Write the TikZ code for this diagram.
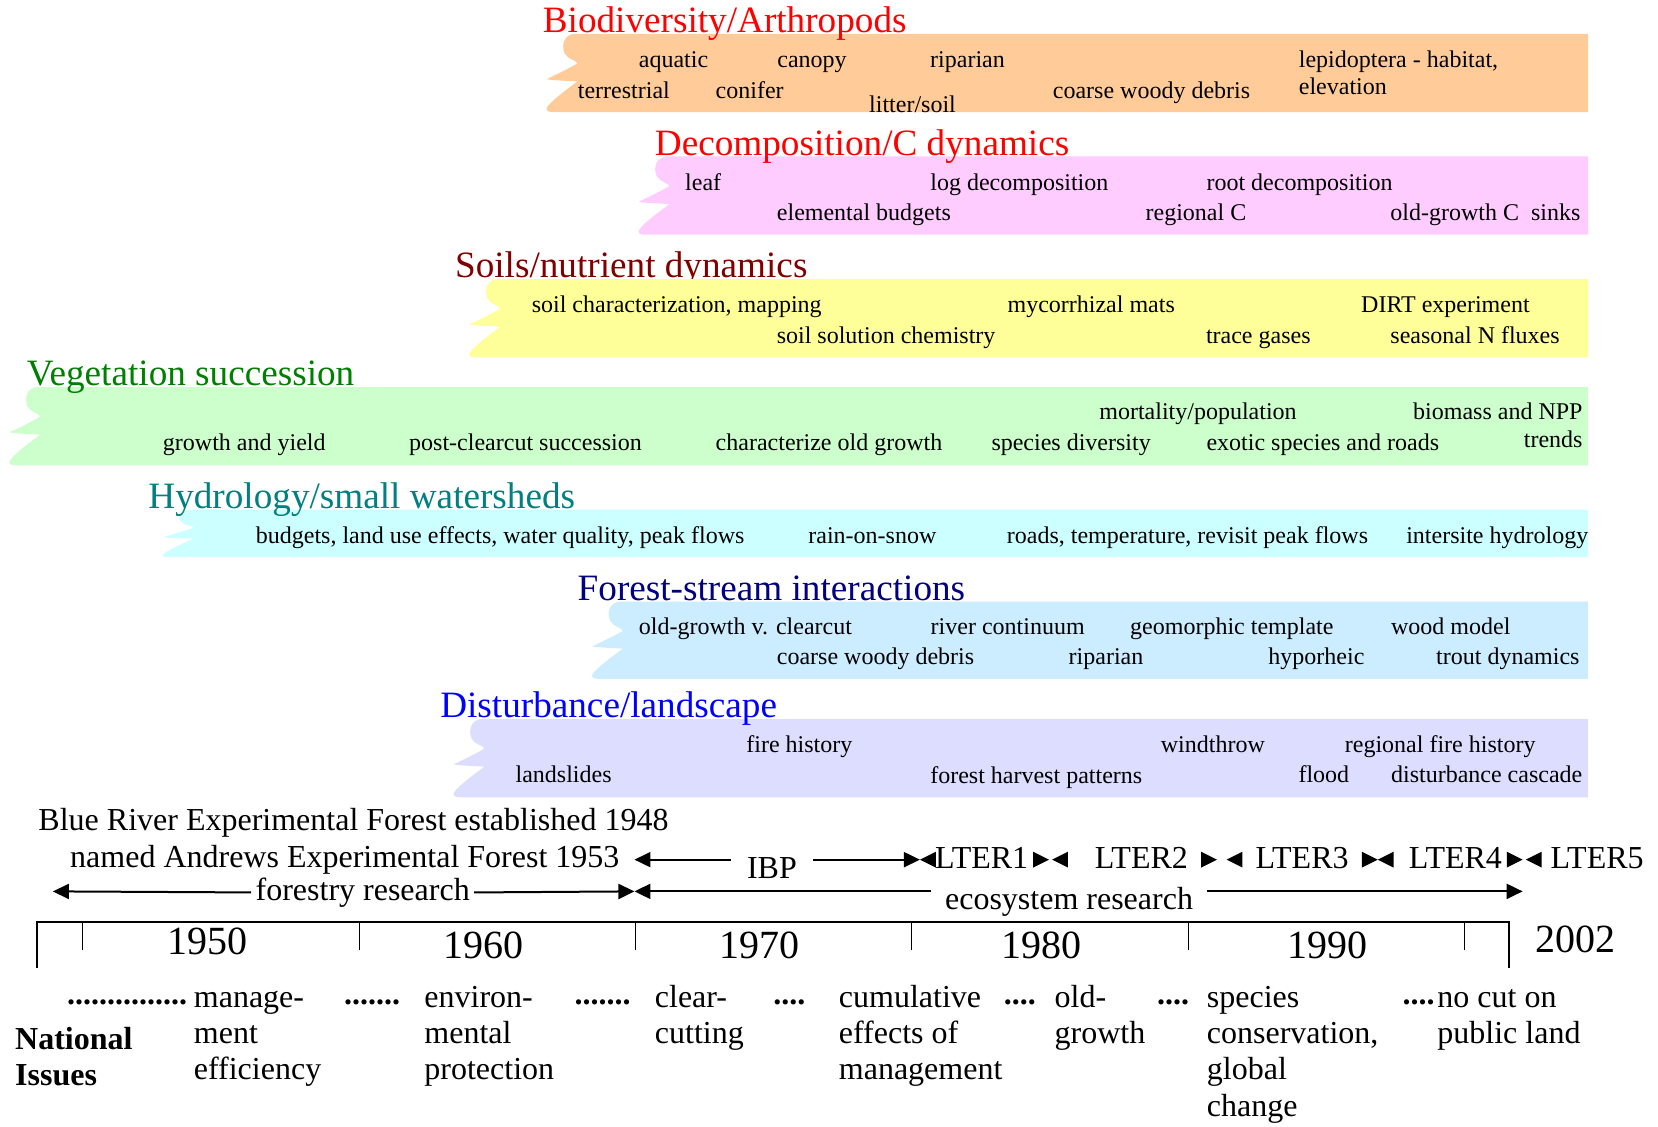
\documentclass[tikz,border=0pt]{standalone}
\usepackage{fontspec}
\setmainfont{Liberation Serif}
\usetikzlibrary{arrows.meta}

\definecolor{bioband}{RGB}{255,204,153}
\definecolor{decband}{RGB}{255,204,255}
\definecolor{soilband}{RGB}{255,255,153}
\definecolor{vegband}{RGB}{204,255,204}
\definecolor{hydband}{RGB}{204,255,255}
\definecolor{strband}{RGB}{204,236,255}
\definecolor{disband}{RGB}{221,221,255}
\definecolor{soiltitle}{RGB}{128,0,0}
\definecolor{vegtitle}{RGB}{0,128,0}
\definecolor{hydtitle}{RGB}{0,128,128}
\definecolor{strtitle}{RGB}{0,0,128}

\tikzset{
  bandtext/.style={font=\fontsize{12}{14}\selectfont, anchor=base, inner sep=0pt, yshift=-1.5pt},
  bandtitle/.style={font=\fontsize{18.6}{22}\selectfont, anchor=base west, inner sep=0pt, yshift=-1pt},
  histtext/.style={font=\fontsize{16}{18.2}\selectfont, inner sep=0pt},
  yeartext/.style={font=\fontsize{20}{24}\selectfont, anchor=base, inner sep=0pt},
  issue/.style={font=\fontsize{16}{18.2}\selectfont, align=left, anchor=north west, inner sep=0pt},
  span/.style={line width=1pt, -{Triangle[length=8pt,width=7.5pt]}},
}

% torn left edge band: colour, left x, top y, bottom y, right x
\newcommand{\tornband}[5]{%
  \pgfmathsetmacro{\bandh}{#4-#3}
  \fill[#1] (#5,#3) -- ({#2+31},#3)
    .. controls ({#2+22},#3) and ({#2+17},{#3+.12*\bandh}) .. ({#2+21},{#3+.25*\bandh})
    .. controls ({#2+24},{#3+.33*\bandh}) and ({#2+33},{#3+.34*\bandh}) .. ({#2+33},{#3+.38*\bandh})
    .. controls ({#2+20},{#3+.48*\bandh}) and ({#2+8},{#3+.55*\bandh}) .. ({#2+4},{#3+.58*\bandh})
    .. controls ({#2+12},{#3+.6*\bandh}) and ({#2+28},{#3+.6*\bandh}) .. ({#2+33},{#3+.61*\bandh})
    .. controls ({#2+22},{#3+.72*\bandh}) and ({#2+6},{#3+.88*\bandh}) .. ({#2+4},{#3+.95*\bandh})
    .. controls ({#2+3},#4) and ({#2+8},#4) .. ({#2+12},#4)
    -- (#5,#4) -- cycle;
}
% a run of leader dots
\newcommand{\dotrun}[1]{\foreach \k in {1,...,#1}{.}}

\begin{document}
\begin{tikzpicture}[x=0.5287pt,y=-0.5287pt]
  \useasboundingbox (0,0) rectangle (1568,1065);

  % research themes
  \tornband{bioband}{513}{32}{106}{1502}
  \node[bandtitle, red] (biotitle) at (513,29) {Biodiversity/Arthropods};
  \foreach \x/\y/\t [count=\i] in {637/61/aquatic, 768/61/canopy, 915/61/riparian,
      590/90/terrestrial, 709/90/conifer, 863/104/{litter/soil}, 1089/90/coarse woody debris}
    \node[bandtext] (bio\i) at (\x,\y) {\t};
  \node[bandtext, anchor=base west] (bio8) at (1228,61) {lepidoptera - habitat,};
  \node[bandtext, anchor=base west] (bio9) at (1228,87) {elevation};

  \tornband{decband}{600}{148}{222}{1502}
  \node[bandtitle, red] (dectitle) at (619,145) {Decomposition/C dynamics};
  \foreach \x/\y/\t [count=\i] in {665/177/leaf, 964/177/log decomposition, 1229/177/root decomposition,
      817/206/elemental budgets, 1131/206/regional C}
    \node[bandtext] (dec\i) at (\x,\y) {\t};
  \node[bandtext, anchor=base east] (dec6) at (1495,206) {old-growth C~ sinks};

  \node[bandtitle, soiltitle] (soiltitle) at (430,261) {Soils/nutrient dynamics};
  \tornband{soilband}{440}{264}{338}{1502}
  \foreach \x/\y/\t [count=\i] in {640/293/{soil characterization, mapping}, 1032/293/mycorrhizal mats,
      1367/293/DIRT experiment, 838/322/soil solution chemistry, 1190/322/trace gases, 1395/322/seasonal N fluxes}
    \node[bandtext] (soil\i) at (\x,\y) {\t};

  \tornband{vegband}{5}{366}{440}{1502}
  \node[bandtitle, vegtitle] (vegtitle) at (25,363) {Vegetation succession};
  \foreach \x/\y/\t [count=\i] in {1133/394/{mortality/population}, 231/423/growth and yield,
      497/423/post-clearcut succession, 784/423/characterize old growth, 1013/423/species diversity,
      1251/423/exotic species and roads}
    \node[bandtext] (veg\i) at (\x,\y) {\t};
  \node[bandtext, anchor=base east] (veg7) at (1497,394) {biomass and NPP};
  \node[bandtext, anchor=base east] (veg8) at (1497,420) {trends};

  \tornband{hydband}{150}{482}{527}{1502}
  \node[bandtitle, hydtitle] (hydtitle) at (140,479) {Hydrology/small watersheds};
  \foreach \x/\y/\t [count=\i] in {473/511/{budgets, land use effects, water quality, peak flows},
      825/511/rain-on-snow, 1123/511/{roads, temperature, revisit peak flows}, 1416/511/intersite hydrology}
    \node[bandtext] (hyd\i) at (\x,\y) {\t};

  \tornband{strband}{556}{569}{642}{1502}
  \node[bandtitle, strtitle] (strtitle) at (546,566) {Forest-stream interactions};
  \foreach \x/\y/\t [count=\i] in {705/597/old-growth v. clearcut, 953/597/river continuum,
      1165/597/geomorphic template, 1372/597/wood model, 828/626/coarse woody debris,
      1046/626/riparian, 1245/626/hyporheic, 1426/626/trout dynamics}
    \node[bandtext] (str\i) at (\x,\y) {\t};

  \tornband{disband}{425}{680}{754}{1502}
  \node[bandtitle, blue] (distitle) at (416,677) {Disturbance/landscape};
  \foreach \x/\y/\t [count=\i] in {756/709/fire history, 1147/709/windthrow, 1362/709/regional fire history,
      533/737/landslides, 980/738/forest harvest patterns, 1252/737/flood, 1406/737/disturbance cascade}
    \node[bandtext] (dis\i) at (\x,\y) {\t};

  % history of the site
  \node[histtext, anchor=base west] (blueriver) at (36,785) {Blue River Experimental Forest established 1948};
  \node[histtext, anchor=base west] (andrews) at (66,820) {named Andrews Experimental Forest 1953};
  \node[histtext, anchor=base, inner xsep=8pt] (ibp) at (730,831) {IBP};
  \coordinate (ibp0) at (600,813);
  \coordinate (ibp1) at (870,813);
  \draw[span] (ibp.west |- ibp0) -- (ibp0);
  \draw[span] (ibp.east |- ibp1) -- (ibp1);
  \foreach \x/\t [count=\i] in {884/LTER1, 1035/LTER2, 1187/LTER3, 1332/LTER4, 1466/LTER5}
    \node[histtext, anchor=base west] (lter\i) at (\x,821) {\t};
  % bow ties between the LTER periods
  \foreach \x/\s in {870/1, 992/-1, 995/1, 1151/-1, 1160/1, 1303/-1, 1303/1, 1440/-1, 1443/1}
    \fill (\x,813) -- ++({15*\s},-7.5) -- ++(0,15) -- cycle;

  \coordinate (fr0) at (50,843);
  \coordinate (split) at (600,843);
  \node[histtext, inner xsep=2pt] (forestry) at (343,844) {forestry research};
  \draw[span] (forestry.west) -- (fr0);
  \draw[span] (forestry.east) -- (split);
  \coordinate (eco1) at (1440,843);
  \node[histtext, anchor=base, inner xsep=7pt] (ecosys) at (1011,860) {ecosystem research};
  \draw[span] (ecosys.west |- split) -- (split);
  \draw[span] (ecosys.east |- eco1) -- (eco1);

  % time axis
  \coordinate (ax0) at (35,872);
  \coordinate (ax1) at (1427,872);
  \draw[line width=1pt] (35,915) -- (ax0) -- (ax1) -- (1427,915);
  \foreach \x in {78,340,601,862,1124,1385}
    \draw[line width=0.8pt] (\x,872) -- (\x,898);
  \foreach \x/\y/\t in {196/903/1950, 457/906/1960, 718/906/1970, 985/906/1980, 1255/906/1990, 1490/901/2002}
    \node[yeartext] (y\t) at (\x,\y) {\t};

  % national issues
  \node[issue, font=\fontsize{16}{18.2}\selectfont\bfseries] (natiss) at (14,968) {\strut National\\Issues};
  \foreach \x/\n [count=\i] in {63/15, 325/7, 543/7, 731/4, 949/4, 1094/4, 1326/4}
    \node[histtext, anchor=base west, font=\fontsize{16}{18.2}\selectfont\bfseries] (lead\i) at (\x,950) {\dotrun{\n}};
  \node[issue] (iss1) at (183,928) {\strut manage-\\ment\\efficiency};
  \node[issue] (iss2) at (401,928) {\strut environ-\\mental\\protection};
  \node[issue] (iss3) at (619,928) {\strut clear-\\cutting};
  \node[issue] (iss4) at (793,928) {\strut cumulative\\effects of\\management};
  \node[issue] (iss5) at (997,928) {\strut old-\\growth};
  \node[issue] (iss6) at (1141,928) {\strut species\\conservation,\\global\\change};
  \node[issue] (iss7) at (1359,928) {\strut no cut on\\public land};
\end{tikzpicture}
\end{document}
